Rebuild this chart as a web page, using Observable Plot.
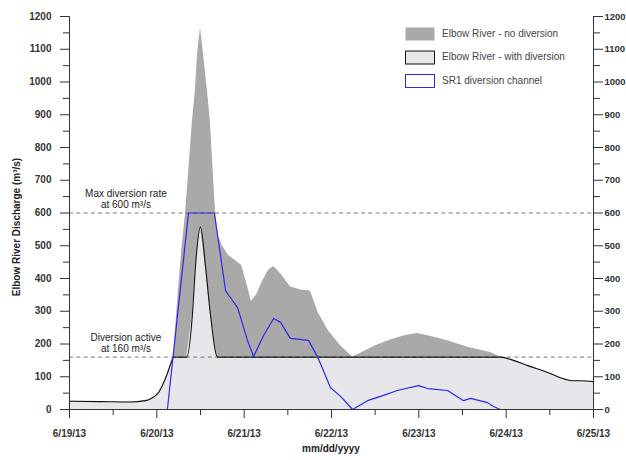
<!DOCTYPE html>
<html>
<head>
<meta charset="utf-8">
<script src="https://cdn.jsdelivr.net/npm/d3@7"></script>
<script src="https://cdn.jsdelivr.net/npm/@observablehq/plot@0.6"></script>
<style>
  html, body { margin: 0; padding: 0; background: #fff; }
  #chart { width: 626px; height: 460px; }
</style>
</head>
<body>
<div id="chart"></div>
<script>
// Hours since 6/19/13 00:00 and discharge (m³/s)
const noDivHours = [0, 8.5, 16.8, 20.9, 22.8, 24.5, 25.8, 26.9, 28.0, 28.6, 29.7, 30.8, 31.9, 33.8, 34.6, 35.2, 36.0, 36.8, 37.9, 38.7, 40.1, 40.9, 42.0, 43.7, 45.6, 47.3, 48.6, 50.0, 51.4, 53.0, 54.7, 56.1, 58.0, 60.7, 63.5, 66.2, 68.4, 71.2, 74.5, 77.8, 80.0, 84.1, 88.2, 92.3, 95.6, 99.7, 103.9, 109.4, 115.7, 118.4, 122.0, 125.9, 131.4, 136.3, 138.2, 140.4, 144];
const noDivQ     = [25, 24, 23, 27, 36, 52, 80, 110, 145, 162, 330, 480, 600, 882, 974, 1087, 1166, 1087, 974, 882, 607, 530, 500, 470, 455, 440, 390, 330, 350, 390, 425, 437, 415, 375, 365, 362, 295, 240, 195, 160, 172, 195, 212, 226, 232, 222, 210, 190, 174, 160, 150, 134, 113, 92, 88, 88, 85];

const withDivHours = [0, 8.5, 16.8, 20.9, 22.8, 24.5, 25.8, 26.9, 28.0, 28.6, 32.2, 33.8, 34.6, 36.0, 37.4, 38.7, 40.7, 118.4, 122.0, 125.9, 131.4, 136.3, 138.2, 140.4, 144];
const withDivQ     = [25, 24, 23, 27, 36, 52, 80, 110, 145, 160, 160, 293, 434, 557, 434, 293, 160, 160, 150, 134, 113, 92, 88, 88, 85];

const sr1Hours = [26.9, 32.7, 39.8, 42.9, 44.2, 46.2, 48.9, 50.6, 53.3, 56.1, 58.0, 60.7, 65.7, 68.2, 71.7, 74.5, 77.8, 81.9, 86.3, 90.1, 95.9, 98.4, 103.9, 108.3, 110.2, 114.9, 116.5, 118.4];
const sr1Q     = [0, 600, 600, 363, 342, 311, 211, 162, 225, 278, 266, 217, 211, 160, 67, 40, 0, 27, 43, 58, 73, 64, 58, 27, 34, 21, 9, 0];

const yTicks = d3.range(0, 1201, 100);
const yMinorTicks = d3.range(50, 1200, 100);
const legendLabels = ["Elbow River - no diversion", "Elbow River - with diversion", "SR1 diversion channel"];
const thresholds = [600, 160];
const thresholdLabels = ["Max diversion rate\nat 600 m³/s", "Diversion active\nat 160 m³/s"];

const t0 = Date.UTC(2013, 5, 19);
const toDate = h => new Date(t0 + h * 3600e3);
const series = (hs, qs) => hs.map((h, i) => ({t: toDate(h), q: qs[i]}));
const noDiv = series(noDivHours, noDivQ);
const withDiv = series(withDivHours, withDivQ);
const sr1 = series(sr1Hours, sr1Q);

const xStart = toDate(0), xEnd = toDate(144);
const dayTicks = d3.utcDay.range(xStart, new Date(+xEnd + 1));
const halfTicks = d3.utcHour.every(12).range(xStart, xEnd).filter(d => d.getUTCHours() === 12);
const fmtDay = d => `${d.getUTCMonth() + 1}/${d.getUTCDate()}/13`;
const fmtY = d => String(d);

const FONT = "Liberation Sans, Arial, Helvetica, sans-serif";

const chart = Plot.plot({
  width: 626,
  height: 460,
  marginLeft: 69,
  marginRight: 33,
  marginTop: 16,
  marginBottom: 51,
  style: {fontFamily: FONT, fontSize: "10px", background: "white", color: "#222"},
  x: {type: "utc", domain: [xStart, xEnd]},
  y: {domain: [0, 1200]},
  marks: [
    Plot.areaY(noDiv, {x: "t", y: "q", fill: "#a9a9a9", curve: "linear"}),
    Plot.areaY(withDiv, {x: "t", y: "q", fill: "#e7e7eb", curve: "linear"}),
    Plot.ruleY(thresholds, {stroke: "#555", strokeWidth: 0.8, strokeDasharray: "4,3.3"}),
    Plot.line(withDiv, {x: "t", y: "q", stroke: "#111", strokeWidth: 1.1, curve: "monotone-x"}),
    Plot.line(sr1, {x: "t", y: "q", stroke: "#2a2ae8", strokeWidth: 1.2, curve: "linear"}),
    Plot.text(thresholds, {
      x: toDate(15.5), y: d => d, text: (d, i) => thresholdLabels[i],
      lineAnchor: "bottom", dy: -5, fontSize: 10, fill: "#222", lineHeight: 1.1
    }),
    // axis frame lines
    Plot.ruleX([xStart, xEnd], {y1: 0, y2: 1200, stroke: "#333", strokeWidth: 1}),
    Plot.ruleY([0], {stroke: "#333", strokeWidth: 1}),
    // y axes
    Plot.axisY({anchor: "left", ticks: yTicks, tickSize: 9, tickPadding: 9, tickFormat: fmtY, label: null, fontWeight: "bold", fill: "#333", stroke: "#333"}),
    Plot.axisY({anchor: "left", ticks: yMinorTicks, tickSize: 6, tickFormat: () => "", label: null, stroke: "#333"}),
    Plot.axisY({anchor: "right", ticks: yTicks, tickSize: 9, tickPadding: 2, tickFormat: fmtY, label: null, fontWeight: "bold", fontSize: 9.5, fill: "#333", stroke: "#333"}),
    Plot.axisY({anchor: "right", ticks: yMinorTicks, tickSize: 6, tickFormat: () => "", label: null, stroke: "#333"}),
    // x axis
    Plot.axisX({ticks: dayTicks, tickSize: 9, tickPadding: 11, tickFormat: fmtDay, label: null, fontWeight: "bold", fill: "#333", stroke: "#333"}),
    Plot.axisX({ticks: halfTicks, tickSize: 6, tickFormat: () => "", label: null, stroke: "#333"})
  ]
});

document.getElementById("chart").appendChild(chart);

// Titles and legend
const svg = d3.select(chart);
svg.append("text")
  .attr("x", 331).attr("y", 449)
  .attr("text-anchor", "middle").attr("dominant-baseline", "middle")
  .attr("font-family", FONT).attr("font-size", 10).attr("font-weight", "bold").attr("fill", "#222")
  .text("mm/dd/yyyy");
svg.append("text")
  .attr("transform", "translate(17,227) rotate(-90)")
  .attr("text-anchor", "middle").attr("dominant-baseline", "middle")
  .attr("font-family", FONT).attr("font-size", 10).attr("font-weight", "bold").attr("fill", "#222")
  .text("Elbow River Discharge (m³/s)");

const legendStyles = [
  {fill: "#a9a9a9", stroke: "none"},
  {fill: "#e7e7eb", stroke: "#111"},
  {fill: "#ffffff", stroke: "#2a2ae8"}
];
const lg = svg.append("g").attr("transform", "translate(405,27)");
legendLabels.forEach((label, i) => {
  const g = lg.append("g").attr("transform", `translate(0,${i * 23.5})`);
  g.append("rect").attr("x", 0.5).attr("y", 0.5).attr("width", 29).attr("height", 13)
    .attr("fill", legendStyles[i].fill).attr("stroke", legendStyles[i].stroke).attr("stroke-width", 1);
  g.append("text").attr("x", 37).attr("y", 7)
    .attr("text-anchor", "start")
    .attr("dominant-baseline", "middle")
    .attr("font-family", FONT).attr("font-size", 10).attr("fill", "#444")
    .text(label);
});
</script>
</body>
</html>
